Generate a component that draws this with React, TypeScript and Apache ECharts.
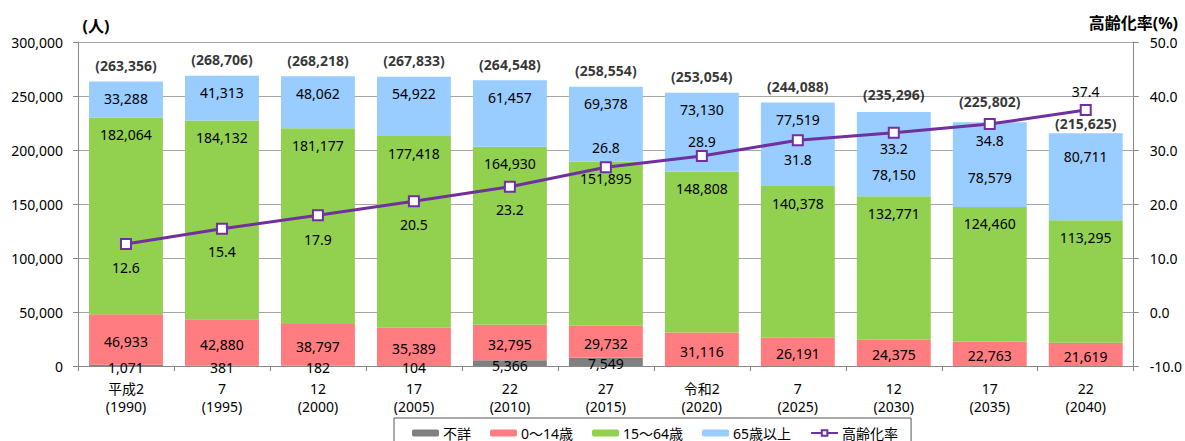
import React, { useEffect, useRef } from "react";
import * as echarts from "echarts";

const categories = [
  "平成2\n(1990)", "7\n(1995)", "12\n(2000)", "17\n(2005)", "22\n(2010)", "27\n(2015)",
  "令和2\n(2020)", "7\n(2025)", "12\n(2030)", "17\n(2035)", "22\n(2040)",
];
const unknown = [1071, 381, 182, 104, 5366, 7549, null, null, null, null, null];
const age0to14 = [46933, 42880, 38797, 35389, 32795, 29732, 31116, 26191, 24375, 22763, 21619];
const age15to64 = [182064, 184132, 181177, 177418, 164930, 151895, 148808, 140378, 132771, 124460, 113295];
const age65plus = [33288, 41313, 48062, 54922, 61457, 69378, 73130, 77519, 78150, 78579, 80711];
const agingRate = [12.6, 15.4, 17.9, 20.5, 23.2, 26.8, 28.9, 31.8, 33.2, 34.8, 37.4];

const seriesNames = ["不詳", "0〜14歳", "15〜64歳", "65歳以上", "高齢化率"];
const leftTicks = { min: 0, max: 300000, interval: 50000 };
const rightTicks = { min: -10, max: 50, interval: 10 };

// label placement tweaks (layout only)
const blueLabelDy = [0, 0, 0, 0, 0, 0, 0, 0, 46, 38, 6];
const totalLabelDy = [-16, -16, -16, -16, -16, -16, -16, -16, -17, -21, -10];
const rateLabelDy = [24, 23, 24, 23, 23, -20, -14, 19, 16, 16, -19];

const FONT = "'Noto Sans', 'Noto Sans CJK JP', sans-serif";
const fmt = (v: number) => Number(v).toLocaleString("en-US");

export default function App() {
  const ref = useRef<HTMLDivElement>(null);
  useEffect(() => {
    if (!ref.current) return;
    const chart = echarts.init(ref.current, null, { renderer: "svg" });
    const totals = categories.map(
      (_, i) => (unknown[i] || 0) + age0to14[i] + age15to64[i] + age65plus[i]
    );
    const labelBase = { color: "#000", fontFamily: FONT, fontSize: 14, lineHeight: 16 };
    const gray = "#888888";
    chart.setOption({
      animation: false,
      textStyle: { fontFamily: FONT },
      grid: { left: 78, right: 50, top: 42, bottom: 75 },
      graphic: [
        {
          type: "text", x: 96, y: 26,
          style: { text: "(人)", font: `bold 16px ${FONT}`, lineHeight: 16, fill: "#000", align: "center", verticalAlign: "middle" },
        },
        {
          type: "text", x: 1178, y: 23,
          style: { text: "高齢化率(%)", font: `bold 16px ${FONT}`, lineHeight: 15, fill: "#000", align: "right", verticalAlign: "middle" },
        },
      ],
      legend: {
        data: seriesNames,
        left: 394,
        top: 418,
        padding: [8, 13, 8, 18],
        borderColor: "#555",
        borderWidth: 1,
        itemWidth: 27,
        itemHeight: 7,
        itemGap: 19,
        textStyle: { fontFamily: FONT, fontSize: 14, lineHeight: 14, color: "#000", padding: [0, 0, 0, -1] },
      },
      xAxis: {
        type: "category",
        data: categories,
        axisLine: { lineStyle: { color: gray } },
        axisTick: { show: true, length: 5, lineStyle: { color: gray } },
        axisLabel: { color: "#000", fontFamily: FONT, fontSize: 14, lineHeight: 18.5, margin: 13 },
      },
      yAxis: [
        {
          type: "value",
          ...leftTicks,
          axisLine: { show: true, lineStyle: { color: gray } },
          axisTick: { show: true, length: 5, lineStyle: { color: gray } },
          splitLine: { lineStyle: { color: "#A6A6A6" } },
          axisLabel: { color: "#000", fontFamily: FONT, fontSize: 14, margin: 15, formatter: (v: number) => fmt(v) },
        },
        {
          type: "value",
          ...rightTicks,
          position: "right",
          axisLine: { show: true, lineStyle: { color: gray } },
          axisTick: { show: true, length: 5, lineStyle: { color: gray } },
          splitLine: { show: false },
          axisLabel: { color: "#000", fontFamily: FONT, fontSize: 14, lineHeight: 14, margin: 16, formatter: (v: number) => v.toFixed(1) },
        },
      ],
      series: [
        {
          name: seriesNames[0], type: "bar", stack: "pop", barCategoryGap: "23%",
          itemStyle: { color: "#808080" },
          label: { show: true, position: "inside", offset: [0, 2], ...labelBase, formatter: (p: any) => (p.value ? fmt(p.value) : "") },
          data: unknown,
        },
        {
          name: seriesNames[1], type: "bar", stack: "pop",
          itemStyle: { color: "#FF7C80" },
          label: { show: true, position: "inside", offset: [0, 2], ...labelBase, formatter: (p: any) => fmt(p.value) },
          data: age0to14,
        },
        {
          name: seriesNames[2], type: "bar", stack: "pop",
          itemStyle: { color: "#92D050" },
          label: { show: true, position: "insideTop", distance: 9, ...labelBase, formatter: (p: any) => fmt(p.value) },
          data: age15to64,
        },
        {
          name: seriesNames[3], type: "bar", stack: "pop",
          itemStyle: { color: "#99CCFF" },
          label: { show: true, position: "insideTop", distance: 9, ...labelBase, formatter: (p: any) => fmt(p.value) },
          data: age65plus.map((v, i) => ({ value: v, label: { offset: [0, blueLabelDy[i]] } })),
        },
        {
          name: "total", type: "scatter", symbolSize: 1,
          itemStyle: { color: "transparent" },
          label: { show: true, position: "inside", ...labelBase, fontWeight: "bold", formatter: (p: any) => `(${fmt(p.value)})` },
          data: totals.map((v, i) => ({ value: v, label: { offset: [0, totalLabelDy[i]] } })),
          z: 5,
        },
        {
          name: seriesNames[4], type: "line", yAxisIndex: 1,
          symbol: "rect", symbolSize: 10,
          lineStyle: { color: "#7030A0", width: 3 },
          itemStyle: { color: "#FFFFFF", borderColor: "#7030A0", borderWidth: 2 },
          label: { show: true, position: "inside", ...labelBase, formatter: (p: any) => Number(p.value).toFixed(1) },
          data: agingRate.map((v, i) => ({ value: v, label: { offset: [0, rateLabelDy[i]] } })),
          z: 10,
        },
      ],
    });
    return () => chart.dispose();
  }, []);
  return <div ref={ref} style={{ position: "absolute", left: 0, top: 0, width: 1185, height: 441 }} />;
}
